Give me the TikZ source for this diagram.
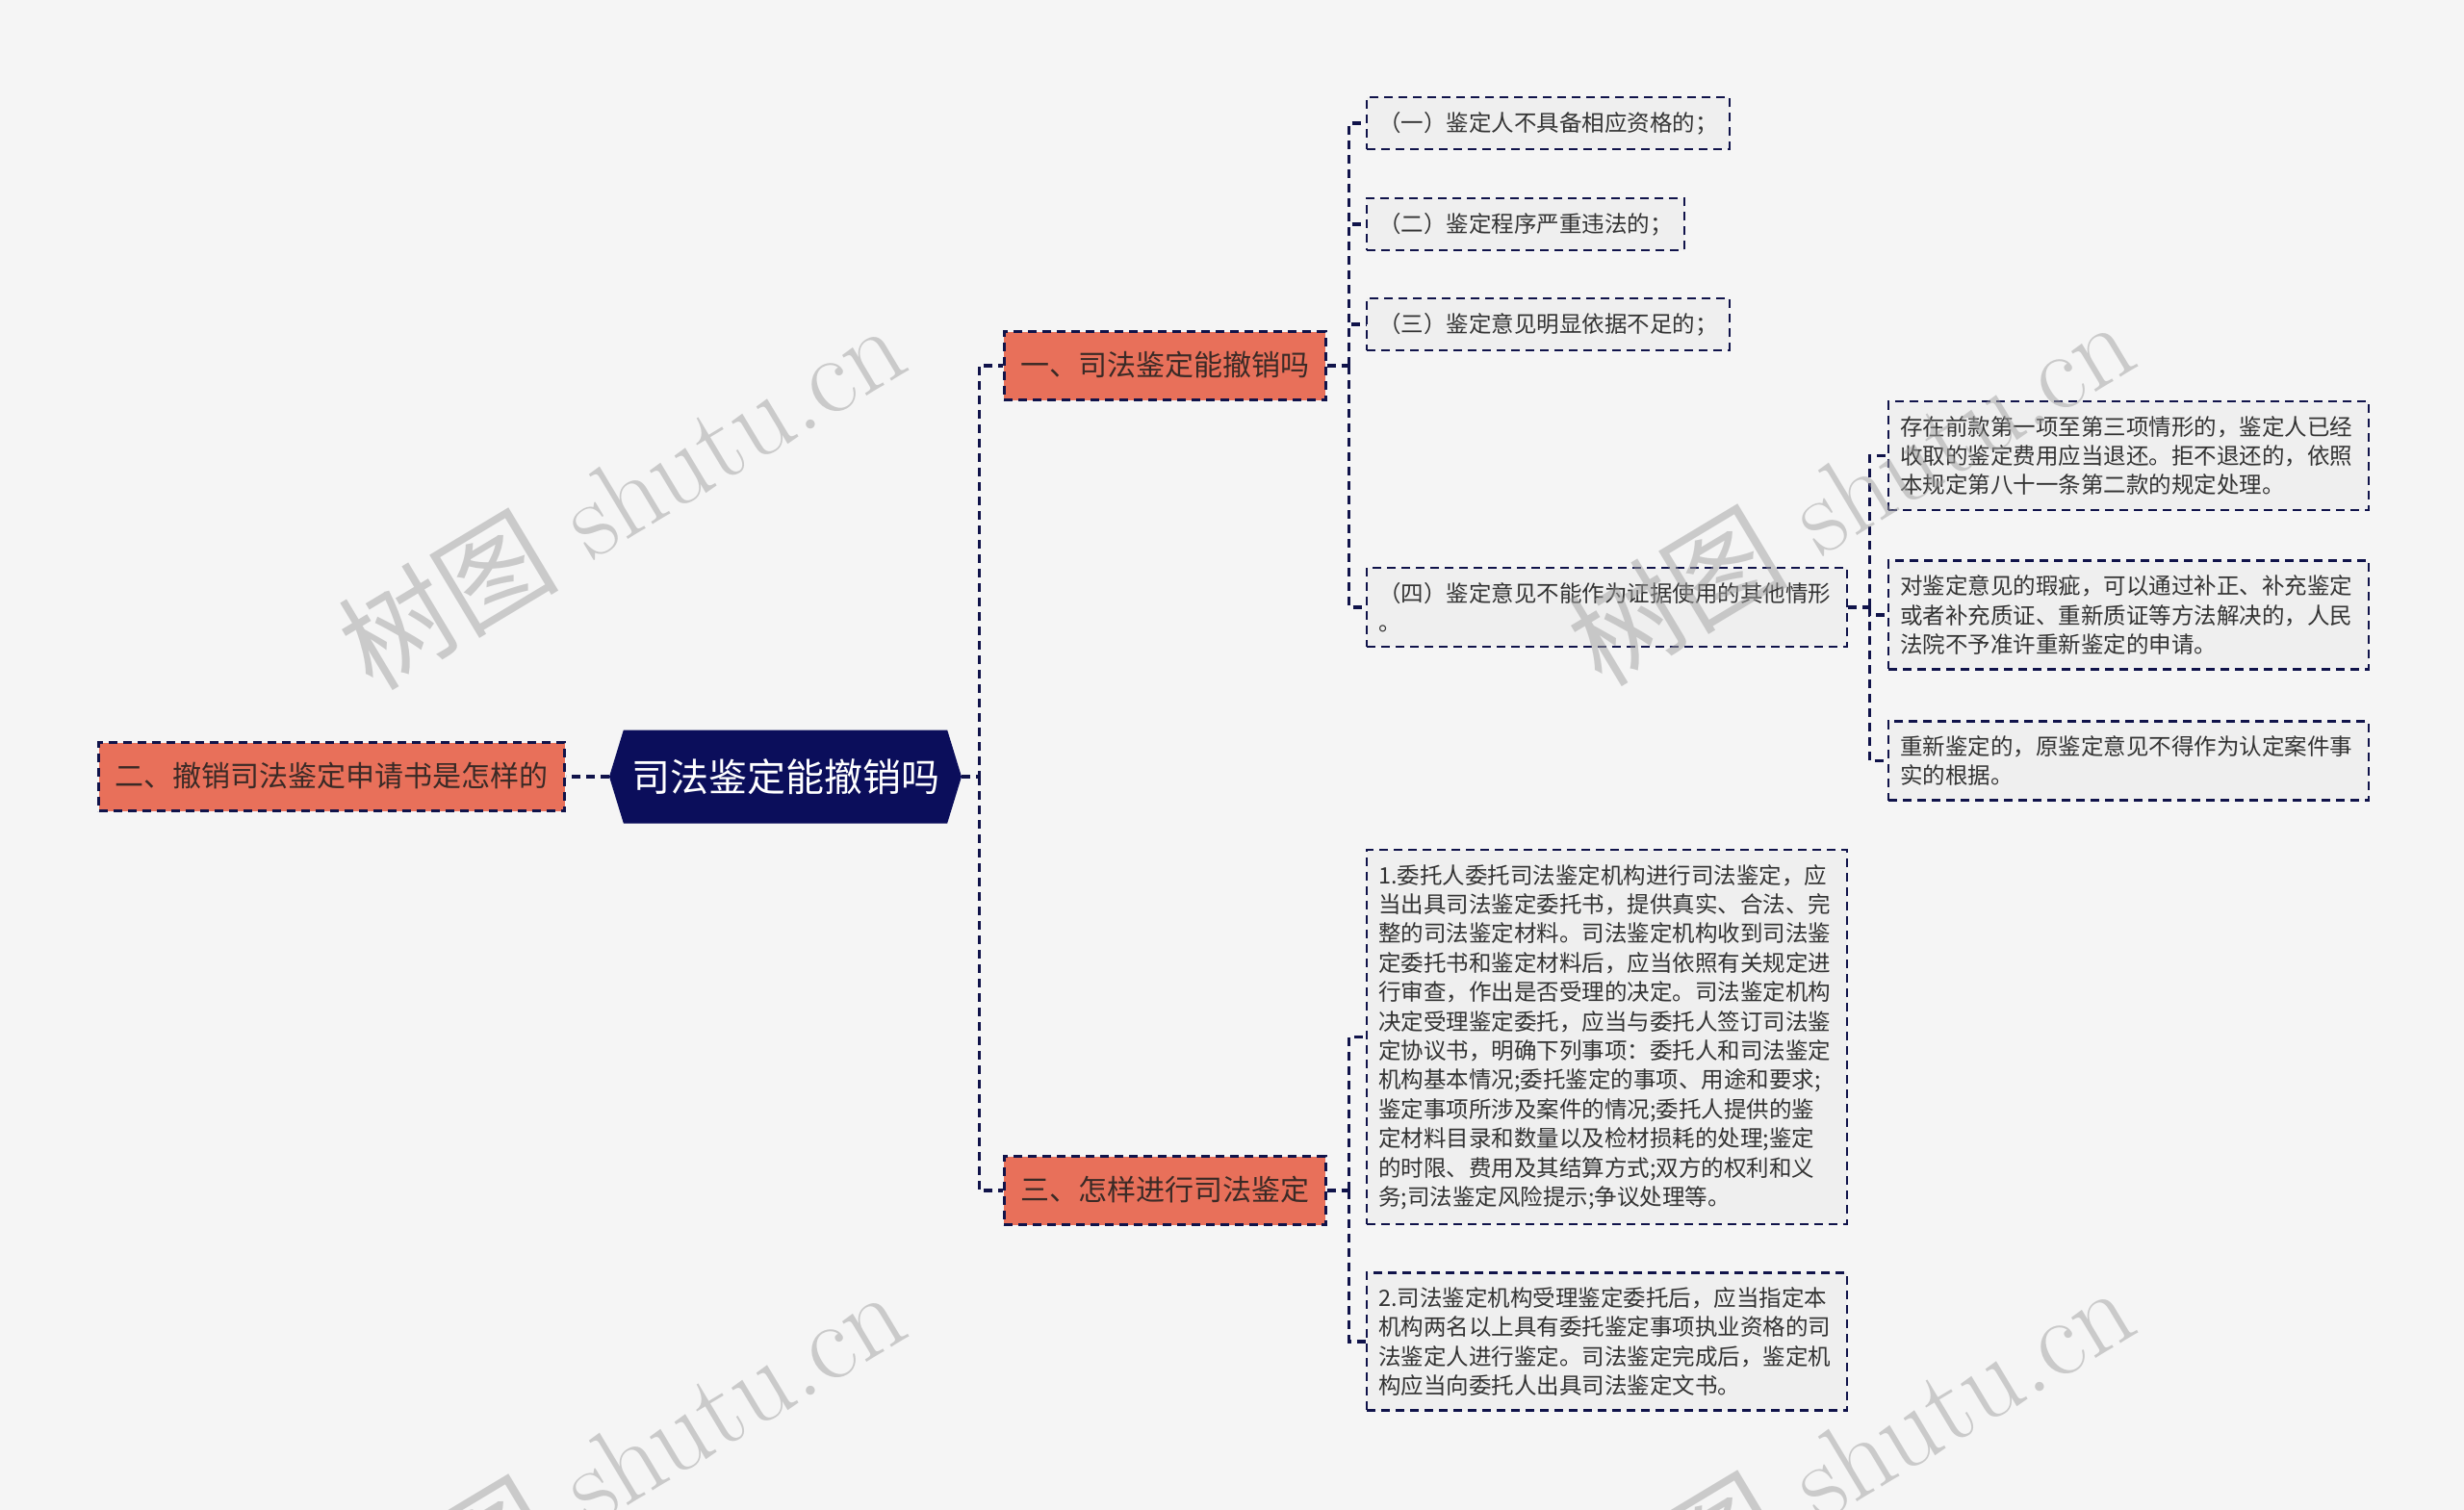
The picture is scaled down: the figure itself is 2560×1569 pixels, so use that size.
\documentclass[tikz,border=0pt]{standalone}
\usepackage{fontspec}
\usepackage{xcolor}
\usepackage{tikz}
\usetikzlibrary{calc, shapes.symbols, positioning}
\newfontfamily\cjk{Noto Sans CJK SC}
\definecolor{nenxam}{HTML}{F5F5F5}
\definecolor{xanhdam}{HTML}{0B0E5B}
\definecolor{camnhat}{HTML}{E8705A}
\definecolor{chunau}{HTML}{3A2A26}
\definecolor{duongvien}{HTML}{10134A}
\definecolor{nenla}{HTML}{EFEFEF}
\definecolor{chuxam}{HTML}{333333}
\definecolor{dauchim}{HTML}{A0A0A0}

\begin{document}
\begin{tikzpicture}[x=1pt, y=-1pt,
    rootbox/.style={signal, signal to=east and west, signal pointer angle=146,
        fill=xanhdam, text=white, font=\cjk\fontsize{40}{48}\selectfont,
        minimum width=366pt, minimum height=97pt, inner sep=0pt},
    branchbox/.style={draw=duongvien, line width=2.5pt, dash pattern=on 9pt off 6pt,
        fill=camnhat, text=chunau, font=\cjk\fontsize{30}{36}\selectfont,
        text height=25.5pt, text depth=4.5pt, inner xsep=17pt, inner ysep=20.5pt},
    leafbox/.style={draw=duongvien, line width=2.4pt, dash pattern=on 9pt off 6pt,
        fill=nenla, text=chuxam, font=\cjk\fontsize{23.5}{30.4}\selectfont,
        inner xsep=12pt, inner ysep=15pt, anchor=west, align=left},
    wideleaf/.style={leafbox, text width=475pt},
    linkline/.style={draw=duongvien, line width=3.2pt, dash pattern=on 9pt off 6pt},
    watermark/.style={rotate=31, text=dauchim, opacity=.5,
        font=\fontsize{115}{120}\selectfont}
]
    % Khung hình và nền
    \useasboundingbox (0,0) rectangle (2560,1569);
    \clip (0,0) rectangle (2560,1569);
    \fill[nenxam] (0,0) rectangle (2560,1569);

    % Chủ đề trung tâm và các nhánh chính
    \node[rootbox] (root) at (816,807) {司法鉴定能撤销吗};
    \node[branchbox, left=45pt of root] (two) {二、撤销司法鉴定申请书是怎样的};
    \node[branchbox, anchor=west] (one) at (1042,380) {一、司法鉴定能撤销吗};
    \node[branchbox, anchor=west] (three) at (1042,1237) {三、怎样进行司法鉴定};

    % Các ý của nhánh một
    \node[leafbox] (l1) at (1419,128) {（一）鉴定人不具备相应资格的；};
    \node[leafbox] (l2) at (1419,233) {（二）鉴定程序严重违法的；};
    \node[leafbox] (l3) at (1419,337) {（三）鉴定意见明显依据不足的；};
    \node[wideleaf] (l4) at (1419,631) {（四）鉴定意见不能作为证据使用的其他情形\\。};

    % Các ý con của mục (四)
    \node[wideleaf] (s1) at (1961,473.5) {存在前款第一项至第三项情形的，鉴定人已经\\收取的鉴定费用应当退还。拒不退还的，依照\\本规定第八十一条第二款的规定处理。};
    \node[wideleaf] (s2) at (1961,639) {对鉴定意见的瑕疵，可以通过补正、补充鉴定\\或者补充质证、重新质证等方法解决的，人民\\法院不予准许重新鉴定的申请。};
    \node[wideleaf] (s3) at (1961,790.5) {重新鉴定的，原鉴定意见不得作为认定案件事\\实的根据。};

    % Các ý của nhánh ba
    \node[wideleaf] (m1) at (1419,1077.5) {1.委托人委托司法鉴定机构进行司法鉴定，应\\当出具司法鉴定委托书，提供真实、合法、完\\整的司法鉴定材料。司法鉴定机构收到司法鉴\\定委托书和鉴定材料后，应当依照有关规定进\\行审查，作出是否受理的决定。司法鉴定机构\\决定受理鉴定委托，应当与委托人签订司法鉴\\定协议书，明确下列事项：委托人和司法鉴定\\机构基本情况;委托鉴定的事项、用途和要求;\\鉴定事项所涉及案件的情况;委托人提供的鉴\\定材料目录和数量以及检材损耗的处理;鉴定\\的时限、费用及其结算方式;双方的权利和义\\务;司法鉴定风险提示;争议处理等。};
    \node[wideleaf] (m2) at (1419,1394) {2.司法鉴定机构受理鉴定委托后，应当指定本\\机构两名以上具有委托鉴定事项执业资格的司\\法鉴定人进行鉴定。司法鉴定完成后，鉴定机\\构应当向委托人出具司法鉴定文书。};

    % Đường nối
    \draw[linkline] (root.west) -- (two.east);
    \draw[linkline] (root.east) -- ++(18,0) coordinate (r1) |- (one.west);
    \draw[linkline] (r1) |- (three.west);
    \draw[linkline] (one.east) -- ++(23,0) coordinate (b1);
    \foreach \n in {l1,l2,l3,l4}
        \draw[linkline] (b1) |- (\n.west);
    \draw[linkline] (l4.east) -- ++(22,0) coordinate (b4);
    \foreach \n in {s1,s2,s3}
        \draw[linkline] (b4) |- (\n.west);
    \draw[linkline] (three.east) -- ++(23,0) coordinate (b3);
    \foreach \n in {m1,m2}
        \draw[linkline] (b3) |- (\n.west);

    % Dấu chìm
    \foreach \wx/\wy [count=\i] in {645/514, 1922/510, 645/1518, 1922/1514}
        \node[watermark] (wm\i) at (\wx,\wy) {{\cjk 树图} shutu.cn};
\end{tikzpicture}
\end{document}
